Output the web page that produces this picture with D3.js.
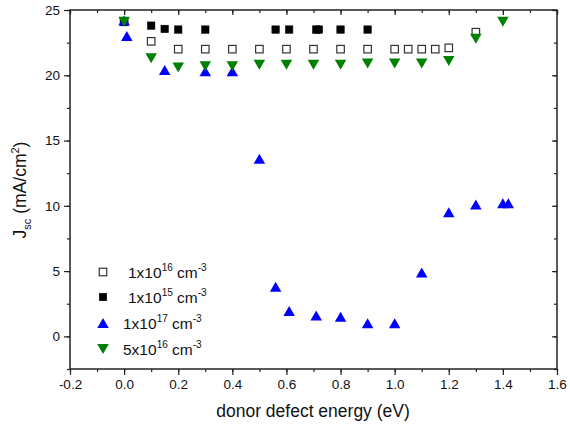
<!DOCTYPE html>
<html><head><meta charset="utf-8">
<script src="https://cdn.jsdelivr.net/npm/d3@7"></script>
<style>body{margin:0;background:#fff}svg{display:block}text{font-family:Arial,"Liberation Sans",sans-serif}</style>
</head><body>
<svg id="c" width="570" height="427"></svg>
<script>
// Data
const sqOpenX = [0, 0.1, 0.2, 0.3, 0.4, 0.5, 0.6, 0.7, 0.8, 0.9, 1.0, 1.05, 1.1, 1.15, 1.2, 1.3];
const sqOpenY = [24.1, 22.6, 22.0, 22.0, 22.0, 22.0, 22.0, 22.0, 22.0, 22.0, 22.0, 22.0, 22.0, 22.0, 22.1, 23.3];
const sqFillX = [0, 0.1, 0.15, 0.2, 0.3, 0.56, 0.61, 0.71, 0.72, 0.8, 0.9];
const sqFillY = [24.1, 23.8, 23.55, 23.5, 23.5, 23.5, 23.5, 23.5, 23.5, 23.5, 23.5];
const triUpX = [0, 0.01, 0.15, 0.3, 0.4, 0.5, 0.56, 0.61, 0.71, 0.8, 0.9, 1.0, 1.1, 1.2, 1.3, 1.4, 1.42];
const triUpY = [24.2, 23.0, 20.4, 20.3, 20.3, 13.6, 3.8, 1.95, 1.6, 1.5, 1.0, 1.0, 4.9, 9.5, 10.1, 10.2, 10.2];
const triDnX = [0, 0.1, 0.2, 0.3, 0.4, 0.5, 0.6, 0.7, 0.8, 0.9, 1.0, 1.1, 1.2, 1.3, 1.4];
const triDnY = [24.1, 21.3, 20.6, 20.7, 20.7, 20.8, 20.8, 20.8, 20.8, 20.9, 20.9, 20.9, 21.1, 22.8, 24.1];
const seriesExp = ["16", "15", "17", "16"];
const seriesMant = ["1", "1", "1", "5"];
const xTicks = [-0.2, 0, 0.2, 0.4, 0.6, 0.8, 1.0, 1.2, 1.4, 1.6];
const yTicks = [0, 5, 10, 15, 20, 25];

const svg = d3.select("#c");
const L = 70, R = 557, T = 10, B = 369;
const x = d3.scaleLinear().domain([-0.2, 1.6]).range([L, R]);
const y = d3.scaleLinear().domain([-2.5, 25]).range([B, T]);

const frameCol = "#222";
const fmtX = v => v.toFixed(1);
const xMinor = d3.range(-0.2, 1.6001, 0.1).map(v => +v.toFixed(2));
const yMinor = d3.range(-2.5, 25.001, 2.5);

const gB = svg.append("g").attr("transform", `translate(0,${B})`)
  .call(d3.axisBottom(x).tickValues(xTicks).tickSize(6).tickPadding(4).tickFormat(fmtX));
const gBm = svg.append("g").attr("transform", `translate(0,${B})`)
  .call(d3.axisBottom(x).tickValues(xMinor).tickSize(3).tickFormat(""));
const gL = svg.append("g").attr("transform", `translate(${L},0)`)
  .call(d3.axisLeft(y).tickValues(yTicks).tickSize(6).tickPadding(4).tickFormat(v => String(v)));
const gLm = svg.append("g").attr("transform", `translate(${L},0)`)
  .call(d3.axisLeft(y).tickValues(yMinor).tickSize(3).tickFormat(""));
const gT = svg.append("g").attr("transform", `translate(0,${T})`)
  .call(d3.axisBottom(x).tickValues(xTicks).tickSize(5).tickFormat(""));
const gTm = svg.append("g").attr("transform", `translate(0,${T})`)
  .call(d3.axisBottom(x).tickValues(xMinor).tickSize(3).tickFormat(""));
const gR = svg.append("g").attr("transform", `translate(${R},0)`)
  .call(d3.axisLeft(y).tickValues(yTicks).tickSize(5).tickFormat(""));
const gRm = svg.append("g").attr("transform", `translate(${R},0)`)
  .call(d3.axisLeft(y).tickValues(yMinor).tickSize(3).tickFormat(""));
[gB, gBm, gL, gLm, gT, gTm, gR, gRm].forEach(g => {
  g.select(".domain").remove();
  g.selectAll("line").attr("stroke", frameCol).attr("stroke-width", 1.2);
  g.selectAll("text").attr("font-size", 13.5).attr("fill", "#111").attr("font-family", "Arial, 'Liberation Sans', sans-serif");
});
svg.append("rect").attr("x", L).attr("y", T).attr("width", R - L).attr("height", B - T)
  .attr("fill", "none").attr("stroke", frameCol).attr("stroke-width", 1.5);

// markers
const sq = 7.5;
function drawSquares(xs, ys, filled) {
  svg.append("g").selectAll("rect").data(xs.map((v, i) => [v, ys[i]])).join("rect")
    .attr("x", d => x(d[0]) - sq / 2).attr("y", d => y(d[1]) - sq / 2)
    .attr("width", sq).attr("height", sq)
    .attr("fill", filled ? "#000" : "#fff").attr("stroke", filled ? "#000" : "#333").attr("stroke-width", filled ? 0.5 : 1.2);
}
function triPath(cx, cy, up) {
  const w = 11.5, h = 10;
  if (up) return `M${cx - w / 2},${cy + h / 2}L${cx + w / 2},${cy + h / 2}L${cx},${cy - h / 2}Z`;
  return `M${cx - w / 2},${cy - h / 2}L${cx + w / 2},${cy - h / 2}L${cx},${cy + h / 2}Z`;
}
function drawTris(xs, ys, up, col) {
  svg.append("g").selectAll("path").data(xs.map((v, i) => [v, ys[i]])).join("path")
    .attr("d", d => triPath(x(d[0]), y(d[1]), up)).attr("fill", col);
}
drawSquares(sqOpenX, sqOpenY, false);
drawSquares(sqFillX, sqFillY, true);
drawTris(triUpX, triUpY, true, "#0000ff");
drawTris(triDnX, triDnY, false, "#008000");

// legend
const legY = [272, 297, 323, 349];
const legTextX = [128, 128, 123, 123];
const lg = svg.append("g");
legY.forEach((ly, i) => {
  const mx = 103;
  if (i < 2) {
    lg.append("rect").attr("x", mx - sq / 2).attr("y", ly - sq / 2).attr("width", sq).attr("height", sq)
      .attr("fill", i === 1 ? "#000" : "#fff").attr("stroke", i === 1 ? "#000" : "#333").attr("stroke-width", i === 1 ? 0.5 : 1.2);
  } else {
    lg.append("path").attr("d", triPath(mx, ly, i === 2)).attr("fill", i === 2 ? "#0000ff" : "#008000");
  }
  const t = lg.append("text").attr("x", legTextX[i]).attr("y", ly + 5.5).attr("font-size", 15.5).attr("fill", "#111");
  t.append("tspan").text(seriesMant[i] + "x10");
  t.append("tspan").attr("dy", -7).attr("font-size", 10).text(seriesExp[i]);
  t.append("tspan").attr("dy", 7).attr("font-size", 15.5).text(" cm");
  t.append("tspan").attr("dy", -7).attr("font-size", 10).text("-3");
});

// axis titles
svg.append("text").attr("x", 313).attr("y", 417).attr("text-anchor", "middle")
  .attr("font-size", 17.5).attr("fill", "#111").text("donor defect energy (eV)");
const yt = svg.append("text").attr("transform", "translate(26,190) rotate(-90)").attr("text-anchor", "middle")
  .attr("font-size", 17.5).attr("fill", "#111");
yt.append("tspan").text("J");
yt.append("tspan").attr("dy", 5).attr("font-size", 11).text("sc");
yt.append("tspan").attr("dy", -5).attr("font-size", 17.5).text(" (mA/cm");
yt.append("tspan").attr("dy", -7).attr("font-size", 11).text("2");
yt.append("tspan").attr("dy", 7).attr("font-size", 17.5).text(")");
</script>
</body></html>
